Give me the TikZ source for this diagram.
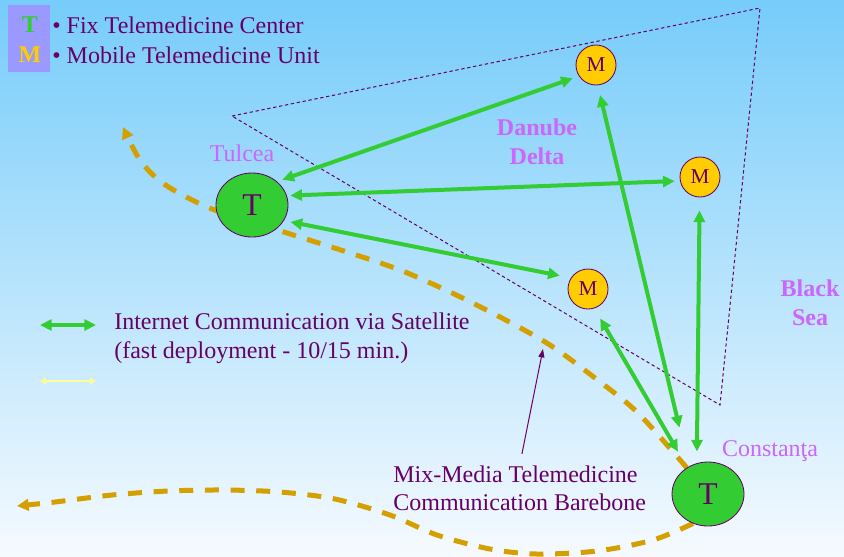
\documentclass[tikz,border=0pt]{standalone}
\usepackage{fontspec}
\setmainfont{Liberation Serif}
\usetikzlibrary{shapes.geometric,arrows.meta,calc}

\definecolor{skytop}{RGB}{118,204,250}
\definecolor{skybottom}{RGB}{246,250,255}
\definecolor{inkpurple}{RGB}{102,0,102}
\definecolor{placeviolet}{RGB}{204,102,255}
\definecolor{tgreen}{RGB}{51,204,51}
\definecolor{mgold}{RGB}{255,204,0}
\definecolor{bonegold}{RGB}{212,160,0}
\definecolor{keyfill}{RGB}{153,153,255}
\definecolor{wireyellow}{RGB}{255,255,153}

\newcommand{\txtsize}{\fontsize{14.4}{17.4}\selectfont}

\pgfdeclarelayer{bg}
\pgfsetlayers{bg,main}

\begin{document}
\begin{tikzpicture}[
    x=0.6pt, y=-0.6pt,
    tcenter/.style = {ellipse, draw=inkpurple, line width=0.5pt, fill=tgreen, minimum width=43.2pt, minimum height=38.4pt, inner sep=0pt, text=inkpurple, font=\fontsize{19}{19}\selectfont},
    munit/.style = {circle, draw=inkpurple, line width=0.5pt, fill=mgold, minimum size=24pt, inner sep=0pt, text=inkpurple, font=\fontsize{12.7}{13}\selectfont},
    place/.style = {text=placeviolet, inner sep=0pt, font=\txtsize},
    area/.style = {text=placeviolet, inner sep=0pt, align=center, font=\txtsize\bfseries},
    legend/.style = {text=inkpurple, inner sep=0pt, anchor=west, align=left, font=\txtsize},
    keyletter/.style = {inner sep=0pt, font=\txtsize\bfseries},
    link/.style = {{Triangle[length=7pt,width=6.6pt]}-{Triangle[length=7pt,width=6.6pt]}, draw=tgreen, line width=2.4pt},
    wire/.style = {{Triangle[length=3.5pt,width=4pt]}-{Triangle[length=3.5pt,width=4pt]}, draw=wireyellow, line width=1.2pt},
    barebone/.style = {-{Triangle[length=7pt,width=7pt]}, draw=bonegold, line width=3pt, dash pattern=on 8.4pt off 7pt},
    region/.style = {draw=inkpurple, line width=0.6pt, dash pattern=on 2pt off 1.6pt},
    pointer/.style = {-{Triangle[length=5pt,width=3.6pt]}, draw=inkpurple, line width=0.6pt}
]
    \useasboundingbox (0,0) rectangle (844,556);
    \begin{pgfonlayer}{bg}
        \shade[top color=skytop, bottom color=skybottom] (0,0) rectangle (844,556);
    \end{pgfonlayer}

    % Key
    \fill[keyfill] (8,5) rectangle (50,72);
    \node[keyletter, text=tgreen] (keyt) at (30,25) {T};
    \node[keyletter, text=mgold] (keym) at (30,55) {M};
    \node[legend] (keytxt1) at (52,25) {• Fix Telemedicine Center};
    \node[legend] (keytxt2) at (52,55) {• Mobile Telemedicine Unit};

    % Region
    \draw[region] (232,116) -- (760,8) -- (720,405) -- cycle;

    % Centers and units
    \node[tcenter] (tulcea) at (252,205) {T};
    \node[tcenter] (const) at (708,494) {T};
    \node[munit] (m1) at (596,65) {M};
    \node[munit] (m2) at (700,177) {M};
    \node[munit] (m3) at (588,289) {M};

    % Place names
    \node[place] (tulcealbl) at (242,153) {Tulcea};
    \node[place] (constlbl) at (770,451) {Constanţa};
    \node[area] (delta) at (537,142) {Danube\\Delta};
    \node[area] (sea) at (810,303) {Black\\Sea};

    % Satellite links
    \draw[link, shorten <=3.3pt, shorten >=3.9pt] (tulcea.43) -- (m1.213);
    \draw[link, shorten <=2.1pt, shorten >=3.2pt] (tulcea.15) -- (m2.191);
    \draw[link, shorten <=4pt, shorten >=6.8pt] (tulcea.334) -- (m3.147);
    \draw[link, shorten <=6pt, shorten >=24pt] (m1.275) -- (const.125);
    \draw[link, shorten <=7.8pt, shorten >=7pt] (m2.269) -- (const.110);
    \draw[link, shorten <=7pt, shorten >=11pt] (m3.288) -- (const.128);

    % Barebone
    \coordinate (bonetip) at (123,127);
    \coordinate (boneend) at (17,506);
    \coordinate (bonept) at (543,349);
    \begin{pgfonlayer}{bg}
        \draw[barebone] plot[smooth] coordinates {(const.129) (638,413) (595,378) (550,345) (500,317) (450,292) (400,270) (347,252) (287,233) (212,209) (164,184) (140,160) (bonetip)};
        \draw[barebone] plot[smooth] coordinates {(const.243) (653,540) (597,551) (537,554) (490,549) (437,535) (390,515) (335,499) (280,492) (224,490) (168,491) (112,495) (55,502) (boneend)};
    \end{pgfonlayer}

    % Legend
    \coordinate (linka) at (40,325);
    \coordinate (linkb) at (96,325);
    \coordinate (wirea) at (40,381);
    \coordinate (wireb) at (96,381);
    \draw[link] (linka) -- (linkb);
    \draw[wire] (wirea) -- (wireb);
    \node[legend] (linktxt) at (114,338) {Internet Communication via Satellite\\(fast deployment - 10/15 min.)};

    % Barebone label
    \node[legend, font=\fontsize{14.4}{16.8}\selectfont] (mixtxt) at (393,488) {Mix-Media Telemedicine\\Communication Barebone};
    \draw[pointer, shorten <=7pt] (mixtxt.north) -- (bonept);

\end{tikzpicture}
\end{document}
